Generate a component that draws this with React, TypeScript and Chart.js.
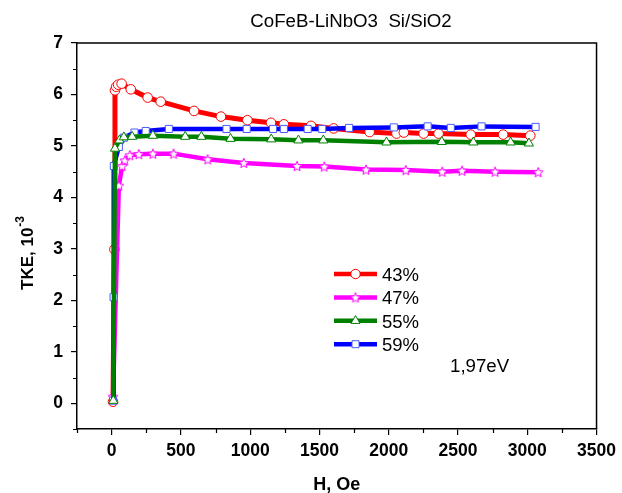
import React, { useEffect, useRef } from "react";
import { Chart, registerables } from "chart.js";

Chart.register(...registerables);

// ---- Data (H in Oe, TKE in 10^-3) ----
const H_43 = [10, 20, 24, 33, 47, 72, 138, 260, 354, 595, 789, 980, 1150, 1243, 1439, 1602, 1862, 2056, 2109, 2252, 2360, 2592, 2826, 3022];
const V_43 = [0.03, 2.99, 6.08, 6.15, 6.19, 6.21, 6.10, 5.94, 5.86, 5.68, 5.57, 5.50, 5.45, 5.42, 5.39, 5.34, 5.27, 5.24, 5.26, 5.24, 5.24, 5.22, 5.22, 5.20];

const H_47 = [10, 52, 76, 95, 131, 196, 298, 447, 693, 954, 1338, 1535, 1836, 2123, 2386, 2529, 2768, 3079];
const V_47 = [0.13, 4.23, 4.61, 4.72, 4.82, 4.84, 4.85, 4.85, 4.74, 4.67, 4.61, 4.60, 4.54, 4.53, 4.50, 4.52, 4.50, 4.49];

const H_55 = [12, 24, 57, 88, 148, 298, 531, 648, 858, 1152, 1348, 1528, 1984, 2383, 2611, 2880, 3012];
const V_55 = [0.05, 4.95, 5.11, 5.17, 5.18, 5.20, 5.18, 5.18, 5.14, 5.13, 5.11, 5.11, 5.07, 5.08, 5.07, 5.07, 5.05];

const H_59 = [10, 14, 16, 52, 88, 165, 246, 413, 829, 975, 1165, 1243, 1415, 1520, 1714, 2037, 2281, 2448, 2670, 3060];
const V_59 = [0.05, 2.06, 4.61, 4.98, 5.16, 5.26, 5.29, 5.33, 5.33, 5.33, 5.33, 5.33, 5.33, 5.33, 5.35, 5.36, 5.38, 5.35, 5.38, 5.37];

const SERIES_LABELS = ["43%", "47%", "55%", "59%"];
const X_TICKS = [0, 500, 1000, 1500, 2000, 2500, 3000, 3500];
const Y_TICKS = [0, 1, 2, 3, 4, 5, 6, 7];
const X_MINOR = [-250, 250, 750, 1250, 1750, 2250, 2750, 3250];
const Y_MINOR = [-0.5, 0.5, 1.5, 2.5, 3.5, 4.5, 5.5, 6.5];
const TITLE = "CoFeB-LiNbO3  Si/SiO2";
const NOTE = "1,97eV";

const FONT = "'Liberation Sans', Arial, sans-serif";
const RED = "#ff0000";
const MAGENTA = "#ff00ff";
const GREEN = "#008000";
const BLUE = "#0000ff";

function makeStar(size: number, color: string) {
  const c = document.createElement("canvas");
  c.width = size;
  c.height = size;
  const g = c.getContext("2d")!;
  const cx = size / 2, cy = size / 2 + 0.5;
  const R = size / 2 - 0.8, r = R * 0.45;
  g.beginPath();
  for (let i = 0; i < 10; i++) {
    const a = -Math.PI / 2 + (i * Math.PI) / 5;
    const rad = i % 2 ? r : R;
    const x = cx + rad * Math.cos(a);
    const y = cy + rad * Math.sin(a);
    if (i === 0) g.moveTo(x, y);
    else g.lineTo(x, y);
  }
  g.closePath();
  g.fillStyle = "#fff";
  g.fill();
  g.strokeStyle = color;
  g.lineWidth = 1;
  g.stroke();
  return c;
}

const pts = (h: number[], v: number[]) => h.map((x, i) => ({ x, y: v[i] }));

export default function App() {
  const ref = useRef<HTMLCanvasElement>(null);

  useEffect(() => {
    const canvas = ref.current!;
    const star = makeStar(12, MAGENTA);

    const legendItems = [
      { color: RED, style: "circle", label: SERIES_LABELS[0] },
      { color: MAGENTA, style: "star", label: SERIES_LABELS[1] },
      { color: GREEN, style: "triangle", label: SERIES_LABELS[2] },
      { color: BLUE, style: "rect", label: SERIES_LABELS[3] },
    ];

    const drawMarker = (ctx: CanvasRenderingContext2D, style: string, color: string, x: number, y: number) => {
      ctx.save();
      ctx.fillStyle = "#fff";
      ctx.lineWidth = 1;
      ctx.strokeStyle = color;
      ctx.beginPath();
      if (style === "circle") {
        ctx.arc(x, y, 4.7, 0, Math.PI * 2);
      } else if (style === "triangle") {
        const r = 5.2;
        for (let i = 0; i < 3; i++) {
          const a = (i * 2 * Math.PI) / 3;
          const px = x + Math.sin(a) * r, py = y - Math.cos(a) * r;
          if (i === 0) ctx.moveTo(px, py);
          else ctx.lineTo(px, py);
        }
        ctx.closePath();
      } else if (style === "rect") {
        ctx.strokeStyle = "#4a5cff";
        ctx.rect(x - 3.5, y - 3.5, 7, 7);
      } else if (style === "star") {
        ctx.drawImage(star, x - star.width / 2, y - star.height / 2);
        ctx.restore();
        return;
      }
      ctx.fill();
      ctx.stroke();
      ctx.restore();
    };

    const decor = {
      id: "decor",
      afterDraw(chart: any) {
        const ctx: CanvasRenderingContext2D = chart.ctx;
        const { left, right, top, bottom } = chart.chartArea;
        const xs = chart.scales.x;
        const ys = chart.scales.y;
        ctx.save();
        // frame top & right
        ctx.strokeStyle = "#000";
        ctx.lineWidth = 1.5;
        ctx.beginPath();
        ctx.moveTo(left, top);
        ctx.lineTo(right, top);
        ctx.lineTo(right, bottom);
        ctx.stroke();
        // minor ticks
        ctx.lineWidth = 1.2;
        ctx.beginPath();
        for (const h of X_MINOR) {
          const px = Math.round(xs.getPixelForValue(h)) + 0.5;
          ctx.moveTo(px, bottom);
          ctx.lineTo(px, bottom + 4);
        }
        for (const v of Y_MINOR) {
          const py = Math.round(ys.getPixelForValue(v)) + 0.5;
          ctx.moveTo(left - 4, py);
          ctx.lineTo(left, py);
        }
        ctx.stroke();

        ctx.fillStyle = "#000";
        // title
        ctx.font = `18.7px ${FONT}`;
        ctx.textAlign = "center";
        ctx.textBaseline = "alphabetic";
        ctx.fillText(TITLE, 351, 27);

        // x axis title
        ctx.font = `bold 18px ${FONT}`;
        ctx.fillText("H, Oe", (left + right) / 2, 490);

        // y axis title (rotated)
        ctx.save();
        ctx.translate(33, 290);
        ctx.rotate(-Math.PI / 2);
        ctx.textAlign = "left";
        ctx.font = `bold 17px ${FONT}`;
        const main = "TKE, 10";
        ctx.fillText(main, 0, 0);
        const w = ctx.measureText(main).width;
        ctx.font = `bold 12px ${FONT}`;
        ctx.fillText("-3", w + 1, -9);
        ctx.restore();

        // legend
        legendItems.forEach((it, i) => {
          const y = 274 + i * 23.4;
          ctx.strokeStyle = it.color;
          ctx.lineWidth = 4.5;
          ctx.beginPath();
          ctx.moveTo(334, y);
          ctx.lineTo(377, y);
          ctx.stroke();
          drawMarker(ctx, it.style, it.color, 355.5, y);
          ctx.fillStyle = "#000";
          ctx.font = `18.5px ${FONT}`;
          ctx.textAlign = "left";
          ctx.textBaseline = "alphabetic";
          ctx.fillText(it.label, 382, y + 7);
        });

        // annotation
        ctx.font = `18.7px ${FONT}`;
        ctx.textAlign = "left";
        ctx.fillText(NOTE, 450, 372);
        ctx.restore();
      },
    };

    const common = {
      showLine: true,
      tension: 0,
      pointBackgroundColor: "#fff",
      pointBorderWidth: 1,
      pointHoverRadius: 5,
    };

    const chart = new Chart(canvas, {
      type: "scatter",
      data: {
        datasets: [
          {
            ...common,
            label: SERIES_LABELS[0],
            data: pts(H_43, V_43),
            borderColor: RED,
            borderWidth: 5,
            pointStyle: "circle",
            pointRadius: 4.8,
            pointBorderColor: RED,
            order: 4,
          },
          {
            ...common,
            label: SERIES_LABELS[1],
            data: pts(H_47, V_47),
            borderColor: MAGENTA,
            borderWidth: 4.5,
            pointStyle: star as any,
            pointRadius: 5,
            pointBorderColor: MAGENTA,
            order: 3,
          },
          {
            ...common,
            label: SERIES_LABELS[3],
            data: pts(H_59, V_59),
            borderColor: BLUE,
            borderWidth: 4.5,
            pointStyle: "rect",
            pointRadius: 5,
            pointBorderColor: "#4a5cff",
            order: 2,
          },
          {
            ...common,
            label: SERIES_LABELS[2],
            data: pts(H_55, V_55),
            borderColor: GREEN,
            borderWidth: 4.5,
            pointStyle: "triangle",
            pointRadius: 5.3,
            pointBorderColor: GREEN,
            order: 1,
          },
        ] as any,
      },
      options: {
        responsive: false,
        animation: false,
        devicePixelRatio: 1,
        layout: { padding: { left: 0, top: 43, right: 21, bottom: 0 } },
        plugins: {
          legend: { display: false },
          tooltip: { enabled: false },
          title: { display: false },
        },
        scales: {
          x: {
            type: "linear",
            min: -250,
            max: 3500,
            afterBuildTicks: (s: any) => {
              s.ticks = X_TICKS.map((value) => ({ value }));
            },
            afterFit: (s: any) => {
              s.height = 64;
            },
            border: { color: "#000", width: 1.5 },
            grid: { drawOnChartArea: false, tickLength: 6, color: "#000", tickColor: "#000", lineWidth: 1.2 },
            ticks: {
              color: "#000",
              padding: 6,
              maxRotation: 0,
              autoSkip: false,
              font: { family: FONT, size: 17.5, weight: "bold" },
              callback: (v: any) => String(v),
            },
          },
          y: {
            type: "linear",
            min: -0.5,
            max: 7,
            afterBuildTicks: (s: any) => {
              s.ticks = Y_TICKS.map((value) => ({ value }));
            },
            afterFit: (s: any) => {
              s.width = 77;
            },
            border: { color: "#000", width: 1.5 },
            grid: { drawOnChartArea: false, tickLength: 6, color: "#000", tickColor: "#000", lineWidth: 1.2 },
            ticks: {
              color: "#000",
              padding: 8,
              autoSkip: false,
              font: { family: FONT, size: 17.5, weight: "bold" },
              callback: (v: any) => String(v),
            },
          },
        },
      } as any,
      plugins: [decor],
    });

    return () => chart.destroy();
  }, []);

  return (
    <div style={{ position: "absolute", left: 0, top: 0, width: 622, height: 493, background: "#fff" }}>
      <canvas ref={ref} width={622} height={493} style={{ display: "block" }} />
    </div>
  );
}
